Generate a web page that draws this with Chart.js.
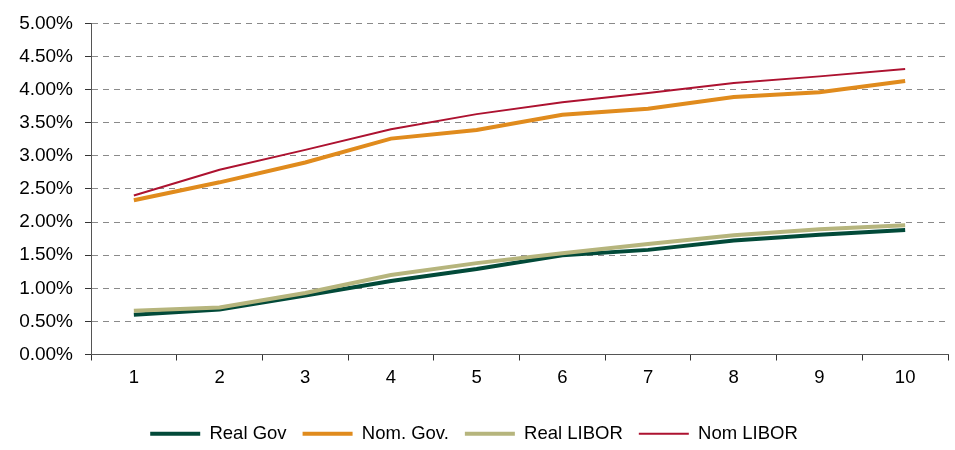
<!DOCTYPE html>
<html>
<head>
<meta charset="utf-8">
<script src="https://cdn.jsdelivr.net/npm/chart.js@4.4.1/dist/chart.umd.min.js"></script>
<style>
  html, body { margin: 0; padding: 0; background: #fff; }
  #wrap { width: 955px; height: 450px; position: relative; }
</style>
</head>
<body>
<div id="wrap"><canvas id="c" width="955" height="450"></canvas></div>
<script>
// Maturities (years)
const maturities = ['1', '2', '3', '4', '5', '6', '7', '8', '9', '10'];

// Yields in percent
const realGov   = [0.60, 0.68, 0.89, 1.11, 1.29, 1.50, 1.58, 1.72, 1.81, 1.88];
const nomGov    = [2.33, 2.60, 2.90, 3.26, 3.39, 3.62, 3.71, 3.89, 3.96, 4.13];
const realLibor = [0.66, 0.71, 0.93, 1.20, 1.38, 1.53, 1.67, 1.80, 1.89, 1.95];
const nomLibor  = [2.40, 2.79, 3.09, 3.40, 3.63, 3.81, 3.95, 4.10, 4.20, 4.31];

const FONT = 'Liberation Sans, Arial, sans-serif';

function series(label, data, color, width, order) {
  return {
    label, data, order,
    borderColor: color,
    backgroundColor: color,
    borderWidth: width,
    pointRadius: 0,
    pointHoverRadius: 0,
    tension: 0,
    fill: false
  };
}

new Chart(document.getElementById('c'), {
  type: 'line',
  data: {
    labels: maturities,
    datasets: [
      series('Real Gov',   realGov,   '#024a39', 4, 2),
      series('Nom. Gov.',  nomGov,    '#e08b1d', 4, 3),
      series('Real LIBOR', realLibor, '#b6b57d', 4, 0),
      series('Nom LIBOR',  nomLibor,  '#ad1230', 2, 1)
    ]
  },
  options: {
    responsive: false,
    animation: false,
    events: [],
    layout: { padding: { top: 19, right: 7, bottom: -3, left: 0 } },
    plugins: {
      tooltip: { enabled: false },
      legend: {
        position: 'bottom',
        labels: {
          font: { family: FONT, size: 18.5 },
          color: '#000',
          boxWidth: 50,
          boxHeight: 0,   // legend keys drawn as plain strokes of the series width
          padding: 16,
          sort: (a, b) => a.datasetIndex - b.datasetIndex
        }
      }
    },
    scales: {
      x: {
        offset: true,
        grid: {
          offset: true,
          drawOnChartArea: false,
          drawTicks: true,
          tickLength: 6,
          color: '#333'
        },
        border: { display: true, color: '#555', width: 1 },
        ticks: {
          font: { family: FONT, size: 18.5 },
          color: '#000',
          padding: 6,
          maxRotation: 0
        },
        afterFit: (s) => { s.height = 54; }
      },
      y: {
        min: 0,
        max: 5,
        grid: {
          color: '#8a8a8a',
          lineWidth: 1,
          drawTicks: true,
          tickLength: 6,
          tickColor: '#333',
          tickBorderDash: []
        },
        border: { display: true, color: '#555', width: 1, dash: [6, 5] },
        ticks: {
          stepSize: 0.5,
          font: { family: FONT, size: 19 },
          color: '#000',
          padding: 12,
          callback: (v) => Number(v).toFixed(2) + '%'
        },
        afterFit: (s) => { s.width = 91; }
      }
    }
  }
});
</script>
</body>
</html>
